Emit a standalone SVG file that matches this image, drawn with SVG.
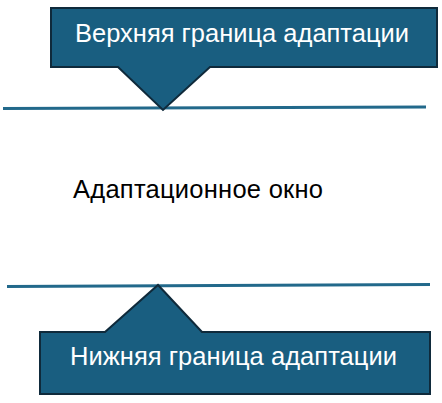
<svg xmlns="http://www.w3.org/2000/svg" width="442" height="403" viewBox="0 0 442 403">
<style>
.callout{fill:#195e80;stroke:#0f2a3b;stroke-width:2;stroke-linejoin:miter}
.lbl{font-family:"Liberation Sans",Arial,sans-serif;font-size:25.5px;fill:#ffffff}
.mid{font-family:"Liberation Sans",Arial,sans-serif;font-size:25.5px;fill:#000000}
.bound{stroke:#22698b;stroke-width:3;fill:none}
</style>
<rect width="442" height="403" fill="#ffffff"/>
<g id="connectors">
<line class="bound" x1="3" y1="108.5" x2="426" y2="107"/>
<line class="bound" x1="7" y1="286.5" x2="430" y2="284.5"/>
</g>
<g id="upper">
<path class="callout" d="M51,8 H437 V67 H210 L163,110 L118,67 H51 Z"/>
<text class="lbl" x="242" y="41.5" text-anchor="middle" textLength="334" lengthAdjust="spacing">Верхняя граница адаптации</text>
</g>
<g id="window">
<text class="mid" x="73" y="198" textLength="250" lengthAdjust="spacing">Адаптационное окно</text>
</g>
<g id="lower">
<path class="callout" d="M40,332 H105 L158,285 L202,332 H430 V394 H40 Z"/>
<text class="lbl" x="233.5" y="364.5" text-anchor="middle" textLength="327" lengthAdjust="spacing">Нижняя граница адаптации</text>
</g>
</svg>
